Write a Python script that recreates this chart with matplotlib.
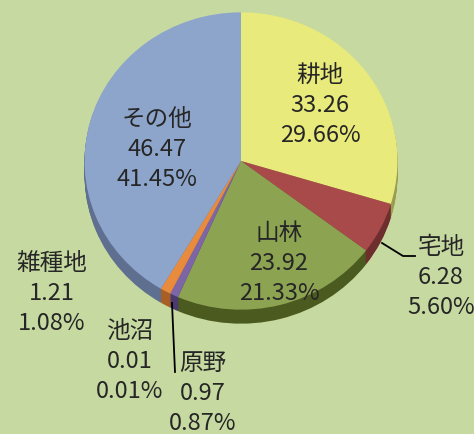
import matplotlib
matplotlib.use("Agg")
import matplotlib.pyplot as plt

plt.rcParams['font.family'] = ['Noto Sans CJK JP', 'DejaVu Sans']

categories = ['耕地', '宅地', '山林', '原野', '池沼', '雑種地', 'その他']
values = [33.26, 6.28, 23.92, 0.97, 0.01, 1.21, 46.47]
percents = ['29.66%', '5.60%', '21.33%', '0.87%', '0.01%', '1.08%', '41.45%']
values_text = ['33.26', '6.28', '23.92', '0.97', '0.01', '1.21', '46.47']

top_colors = ['#E8EA7C', '#A94A4A', '#8CA352', '#7E66A6', '#4BACC6', '#E98B3D', '#8EA5CB']
side_colors = ['#9A9C50', '#6E2E2E', '#4B5A1F', '#4A3A70', '#2E7080', '#A85F25', '#5F6F8F']
bg = '#C6D9A0'

W, H = 474, 434
YS = 0.95  # vertical squash of the pie


def py(y):
    return (H - y) / YS


fig = plt.figure(figsize=(W / 100, H / 100), dpi=100, facecolor=bg)
ax = fig.add_axes([0, 0, 1, 1])
ax.set_facecolor(bg)

cx, cy, r = 241, 161, 156.5
depth = 14

for d in range(depth, 0, -1):
    ax.pie(values, colors=side_colors, center=(cx, py(cy + d)), radius=r,
           startangle=90, counterclock=False,
           wedgeprops=dict(linewidth=0))
ax.pie(values, colors=top_colors, center=(cx, py(cy)), radius=r,
       startangle=90, counterclock=False,
       wedgeprops=dict(linewidth=0))

ax.set_aspect('auto')
ax.set_xlim(0, W)
ax.set_ylim(0, H / YS)
ax.axis('off')

label_pos = {
    '耕地': (320, 75),
    '宅地': (441, 248),
    '山林': (279, 233),
    '原野': (203, 364),
    '池沼': (130, 331),
    '雑種地': (52, 263),
    'その他': (157, 120),
}
gap = 30
tc = '#262626'
fs = 17
for cat, v, p in zip(categories, values_text, percents):
    x, y = label_pos[cat]
    ax.text(x, py(y), cat, ha='center', va='center', fontsize=fs, color=tc)
    ax.text(x, py(y + gap), v, ha='center', va='center', fontsize=fs, color=tc)
    ax.text(x, py(y + 2 * gap), p, ha='center', va='center', fontsize=fs, color=tc)

# leader lines
ax.plot([382, 403, 415], [py(243), py(256), py(256)], color='black', lw=1.3)
ax.plot([172, 175], [py(303), py(372)], color='black', lw=1.3)

fig.savefig('out.png', dpi=100, facecolor=bg)
